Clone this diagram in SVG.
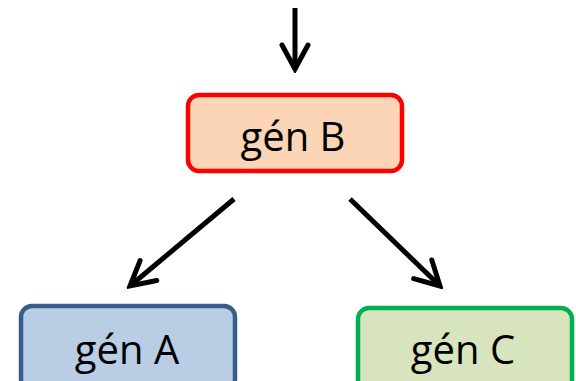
<svg xmlns="http://www.w3.org/2000/svg" width="576" height="381" viewBox="0 0 576 381">
<style>
.box{stroke-width:4.5}
.lbl{font-family:"Open Sans","Noto Sans",sans-serif;font-size:40px;fill:#000;text-anchor:middle}
.conn{stroke:#000;stroke-width:5;fill:none}
</style>
<defs>
<marker id="arr" markerUnits="userSpaceOnUse" viewBox="0 0 32 32" markerWidth="32" markerHeight="32" refX="28" refY="16" orient="auto">
<path d="M4,3 L28,16 L4,29" fill="none" stroke="#000" stroke-width="5" stroke-linecap="round" stroke-linejoin="miter"/>
</marker>
</defs>
<rect width="576" height="381" fill="#fff"/>
<g id="connectors">
<line class="conn" x1="295" y1="8" x2="295" y2="69" marker-end="url(#arr)"/>
<line class="conn" x1="234" y1="199" x2="130" y2="286" marker-end="url(#arr)"/>
<line class="conn" x1="350" y1="199" x2="440" y2="286" marker-end="url(#arr)"/>
</g>
<g id="genB">
<rect class="box" x="188" y="95" width="214" height="76" rx="11" fill="#FBD5B5" stroke="#FF0000"/>
<text class="lbl" x="293" y="151">gén B</text>
</g>
<g id="genA">
<rect class="box" x="21" y="306" width="214" height="84" rx="11" fill="#B9CDE5" stroke="#385D8A"/>
<text class="lbl" x="127" y="364">gén A</text>
</g>
<g id="genC">
<rect class="box" x="358" y="308" width="214" height="84" rx="11" fill="#D7E4BD" stroke="#00B050"/>
<text class="lbl" x="463" y="364">gén C</text>
</g>
</svg>
